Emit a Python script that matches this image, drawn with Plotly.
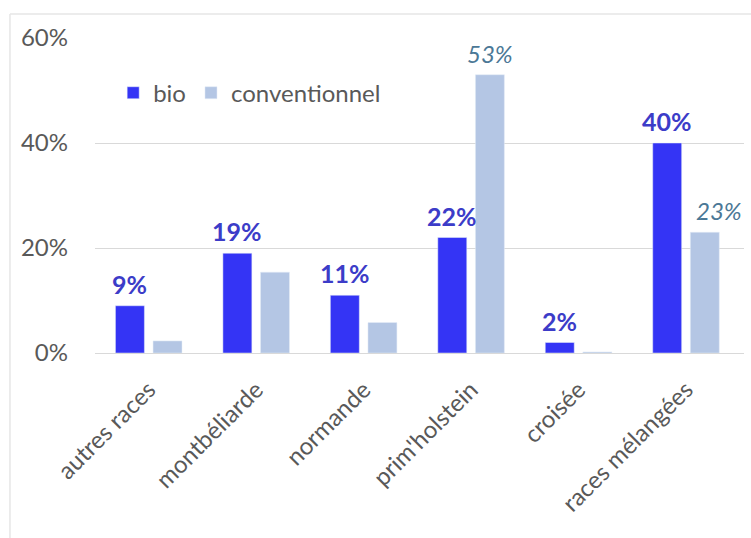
import plotly.graph_objects as go

# Répartition des races par type d'élevage (%)
categories = ["autres races", "montbéliarde", "normande", "prim'holstein", "croisée", "races mélangées"]
bio = [9, 19, 11, 22, 2, 40]
conventionnel = [2.3, 15.4, 5.8, 53, 0.2, 23]
conv_labelled = [False, False, False, True, False, True]

y_ticks = [0, 20, 40, 60]
y_tick_text = ["0%", "20%", "40%", "60%"]

BIO_COLOR = "#3434f5"
CONV_COLOR = "#b4c6e4"
BIO_TEXT = "#3c3cc8"
CONV_TEXT = "#4b7896"
GRAY = "#595959"
FONT = "Lato"
SIZE = 24

fig = go.Figure()
fig.add_trace(go.Bar(name="bio", x=categories, y=bio, marker_color=BIO_COLOR))
fig.add_trace(go.Bar(name="conventionnel", x=categories, y=conventionnel, marker_color=CONV_COLOR))

# Étiquettes de valeur au-dessus des barres
annotations = []
for cat, v in zip(categories, bio):
    annotations.append(dict(
        x=cat, y=v, xref="x", yref="y", text=f"{v:.0f}%", showarrow=False,
        xshift=-19, yshift=5, yanchor="bottom",
        font=dict(family=FONT, size=SIZE + 1, color=BIO_TEXT, weight="bold"),
    ))
for i, (cat, v, show) in enumerate(zip(categories, conventionnel, conv_labelled)):
    if not show:
        continue
    extra = 14 if i == len(categories) - 1 else 0
    annotations.append(dict(
        x=cat, y=v, xref="x", yref="y", text=f"{v:.0f}%", showarrow=False,
        xshift=19 + extra, yshift=5, yanchor="bottom",
        font=dict(family=FONT, size=SIZE, color=CONV_TEXT, style="italic"),
    ))

# Cadre de la zone graphique
shapes = [
    dict(type="line", xref="paper", yref="paper", x0=-0.131, x1=-0.131, y0=-0.7, y1=1.076,
         line=dict(color="#e6e6e6", width=1.5)),
    dict(type="line", xref="paper", yref="paper", x0=-0.131, x1=1.2, y0=1.076, y1=1.076,
         line=dict(color="#e6e6e6", width=1.5)),
]

fig.update_layout(
    width=751, height=538,
    margin=dict(l=95, r=7, t=38, b=185),
    plot_bgcolor="white", paper_bgcolor="white",
    barmode="group", bargap=0.30, bargroupgap=0.23,
    font=dict(family=FONT, size=SIZE, color=GRAY),
    showlegend=True,
    legend=dict(orientation="h", x=0.028, xanchor="left", y=0.825, yanchor="middle",
                font=dict(family=FONT, size=SIZE, color=GRAY), bgcolor="rgba(0,0,0,0)",
                traceorder="normal"),
    annotations=annotations,
    shapes=shapes,
)
fig.update_xaxes(
    tickangle=-45, tickfont=dict(family=FONT, size=SIZE, color=GRAY),
    showgrid=False, showline=False, ticks="", ticklabelstandoff=17,
)
fig.update_yaxes(
    range=[0, 60], tickvals=y_ticks, ticktext=y_tick_text,
    tickfont=dict(family=FONT, size=SIZE, color=GRAY),
    showgrid=True, gridcolor="#d9d9d9", gridwidth=1,
    zeroline=True, zerolinecolor="#d9d9d9", zerolinewidth=1,
    showline=False, ticks="", ticklabelstandoff=26,
)

fig.write_html("out.html")
